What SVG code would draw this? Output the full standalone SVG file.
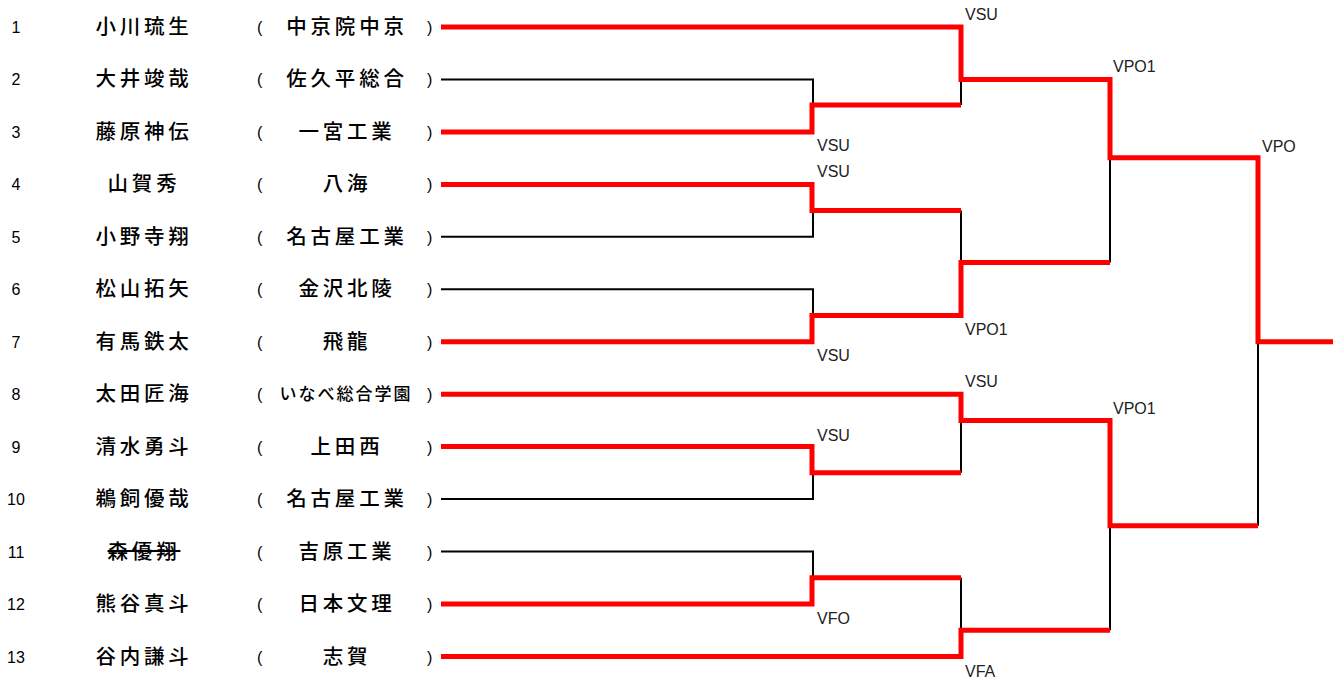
<svg xmlns="http://www.w3.org/2000/svg" width="1341" height="681" viewBox="0 0 1341 681">
<style>
.num{font-family:"Liberation Sans",Arial,sans-serif;font-size:16px;fill:#000;text-anchor:middle}
.nm{font-family:"Noto Sans CJK JP","Noto Sans CJK SC",sans-serif;font-size:20.5px;font-weight:500;letter-spacing:3.8px;fill:#000;text-anchor:middle}
.sc{font-family:"Noto Sans CJK JP","Noto Sans CJK SC",sans-serif;font-size:20.5px;font-weight:500;letter-spacing:3.8px;fill:#000;text-anchor:middle}
.sm{font-size:17px;letter-spacing:2px}
.par{font-family:"Liberation Sans",Arial,sans-serif;font-size:16px;fill:#000}
.lb{font-family:"Liberation Sans",Arial,sans-serif;font-size:16px;fill:#222}
.bk{fill:none;stroke:#000;stroke-width:2}
.rd{fill:none;stroke:#ff0000;stroke-width:5;stroke-linejoin:miter}
</style>
<rect width="1341" height="681" fill="#fff"/>
<g id="rows">
<g id="p1"><text class="num" x="16" y="33">1</text><text class="nm" x="144" y="34">小川琉生</text><text class="par" x="257" y="33">(</text><text class="sc" x="347" y="34">中京院中京</text><text class="par" x="427" y="33">)</text></g>
<g id="p2"><text class="num" x="16" y="85">2</text><text class="nm" x="144" y="86">大井竣哉</text><text class="par" x="257" y="85">(</text><text class="sc" x="347" y="86">佐久平総合</text><text class="par" x="427" y="85">)</text></g>
<g id="p3"><text class="num" x="16" y="138">3</text><text class="nm" x="144" y="139">藤原神伝</text><text class="par" x="257" y="138">(</text><text class="sc" x="347" y="139">一宮工業</text><text class="par" x="427" y="138">)</text></g>
<g id="p4"><text class="num" x="16" y="190">4</text><text class="nm" x="144" y="191">山賀秀</text><text class="par" x="257" y="190">(</text><text class="sc" x="347" y="191">八海</text><text class="par" x="427" y="190">)</text></g>
<g id="p5"><text class="num" x="16" y="243">5</text><text class="nm" x="144" y="244">小野寺翔</text><text class="par" x="257" y="243">(</text><text class="sc" x="347" y="244">名古屋工業</text><text class="par" x="427" y="243">)</text></g>
<g id="p6"><text class="num" x="16" y="295">6</text><text class="nm" x="144" y="296">松山拓矢</text><text class="par" x="257" y="295">(</text><text class="sc" x="347" y="296">金沢北陵</text><text class="par" x="427" y="295">)</text></g>
<g id="p7"><text class="num" x="16" y="348">7</text><text class="nm" x="144" y="349">有馬鉄太</text><text class="par" x="257" y="348">(</text><text class="sc" x="347" y="349">飛龍</text><text class="par" x="427" y="348">)</text></g>
<g id="p8"><text class="num" x="16" y="400">8</text><text class="nm" x="144" y="401">太田匠海</text><text class="par" x="257" y="400">(</text><text class="sc sm" x="346" y="400">いなべ総合学園</text><text class="par" x="427" y="400">)</text></g>
<g id="p9"><text class="num" x="16" y="453">9</text><text class="nm" x="144" y="454">清水勇斗</text><text class="par" x="257" y="453">(</text><text class="sc" x="347" y="454">上田西</text><text class="par" x="427" y="453">)</text></g>
<g id="p10"><text class="num" x="16" y="505">10</text><text class="nm" x="144" y="506">鵜飼優哉</text><text class="par" x="257" y="505">(</text><text class="sc" x="347" y="506">名古屋工業</text><text class="par" x="427" y="505">)</text></g>
<g id="p11"><text class="num" x="16" y="558">11</text><text class="nm" x="144" y="559" text-decoration="line-through">森優翔</text><text class="par" x="257" y="558">(</text><text class="sc" x="347" y="559">吉原工業</text><text class="par" x="427" y="558">)</text></g>
<g id="p12"><text class="num" x="16" y="610">12</text><text class="nm" x="144" y="611">熊谷真斗</text><text class="par" x="257" y="610">(</text><text class="sc" x="347" y="611">日本文理</text><text class="par" x="427" y="610">)</text></g>
<g id="p13"><text class="num" x="16" y="663">13</text><text class="nm" x="144" y="664">谷内謙斗</text><text class="par" x="257" y="663">(</text><text class="sc" x="347" y="664">志賀</text><text class="par" x="427" y="663">)</text></g>
</g>
<g id="connectors">
<g id="losers">
<polyline class="bk" points="441,79.5 813,79.5 813,105"/>
<polyline class="bk" points="441,236.8 813,236.8 813,210.6"/>
<polyline class="bk" points="441,289.3 813,289.3 813,315.5"/>
<polyline class="bk" points="441,499 813,499 813,472.8"/>
<polyline class="bk" points="441,551.5 813,551.5 813,577.7"/>
<line class="bk" x1="961" y1="79.5" x2="961" y2="105"/>
<line class="bk" x1="961" y1="210.6" x2="961" y2="262.5"/>
<line class="bk" x1="961" y1="420.5" x2="961" y2="472.8"/>
<line class="bk" x1="961" y1="577.7" x2="961" y2="630.2"/>
<line class="bk" x1="1110" y1="157.7" x2="1110" y2="262.5"/>
<line class="bk" x1="1110" y1="525.7" x2="1110" y2="630.2"/>
<line class="bk" x1="1258" y1="341.7" x2="1258" y2="525.7"/>
</g>
<g id="winners">
<polyline class="rd" points="441,27 961,27 961,79.5 1110,79.5 1110,157.7 1258,157.7 1258,341.7 1333,341.7"/>
<polyline class="rd" points="441,131.9 812,131.9 812,105 961,105"/>
<polyline class="rd" points="441,184.4 812,184.4 812,210.6 961,210.6"/>
<polyline class="rd" points="441,341.7 812,341.7 812,315.5 961,315.5 961,262.5 1110,262.5"/>
<polyline class="rd" points="441,394.2 961,394.2 961,420.5 1110,420.5 1110,525.7 1258,525.7"/>
<polyline class="rd" points="441,446.6 812,446.6 812,472.8 961,472.8"/>
<polyline class="rd" points="441,604 812,604 812,577.7 961,577.7"/>
<polyline class="rd" points="441,656.4 961,656.4 961,630.2 1110,630.2"/>
</g>
<g id="labels">
<text class="lb" x="965" y="20">VSU</text>
<text class="lb" x="1113" y="72">VPO1</text>
<text class="lb" x="817" y="151">VSU</text>
<text class="lb" x="817" y="177">VSU</text>
<text class="lb" x="1262" y="152">VPO</text>
<text class="lb" x="965" y="335">VPO1</text>
<text class="lb" x="817" y="361">VSU</text>
<text class="lb" x="965" y="387">VSU</text>
<text class="lb" x="1113" y="414">VPO1</text>
<text class="lb" x="817" y="441">VSU</text>
<text class="lb" x="817" y="624">VFO</text>
<text class="lb" x="965" y="677">VFA</text>
</g>
</g>
</svg>
